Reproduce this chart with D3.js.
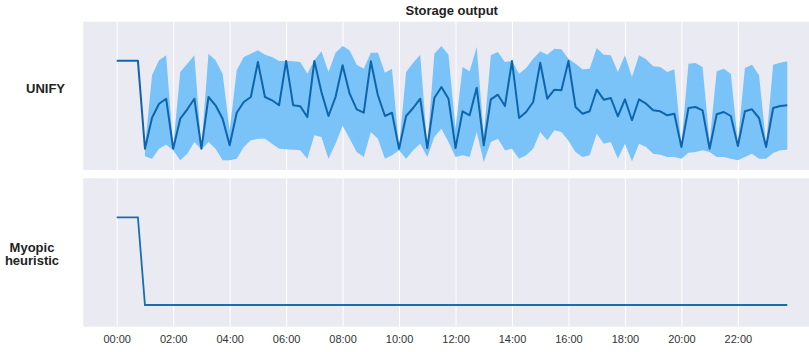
<!DOCTYPE html>
<html>
<head>
<meta charset="utf-8">
<script src="https://cdn.jsdelivr.net/npm/d3@7"></script>
<style>
  body { margin: 0; background: #fff; }
  text { font-family: "Liberation Sans", Arial, sans-serif; }
</style>
</head>
<body>
<div id="chart"></div>
<script>
// x tick labels (every 2 hours), data is every 15 minutes starting at 00:00
var tickLabels = ["00:00", "02:00", "04:00", "06:00", "08:00", "10:00",
  "12:00", "14:00", "16:00", "18:00", "20:00", "22:00"];

var unifyMean = [
  100, 100, 100, 100, 12, 43, 57, 62, 12, 42,
  51.4, 62, 12, 63.7, 55.4, 42, 15.4, 48, 58.7, 63.7,
  98.7, 63.7, 60.4, 55.4, 99.7, 55.4, 54.4, 43.7, 99.7, 68.7,
  44.7, 63.7, 95.4, 67, 51.4, 48, 99.4, 65.4, 44.7, 48,
  12, 44.7, 52.7, 62, 12.7, 62.7, 73.7, 62, 12.7, 49.4,
  45.4, 73, 15.4, 61.4, 66, 54.7, 99.7, 42.7, 48.7, 58.7,
  98, 62, 71, 70.4, 99.7, 53.7, 47, 49.4, 71, 61,
  62.7, 44.4, 61.4, 40.4, 61.4, 57, 50.4, 49.4, 45.4, 47,
  13.7, 52.7, 53.7, 50.4, 12, 46.4, 48.7, 44.7, 14.7, 49.4,
  51.4, 42.7, 13.7, 52.7, 54.7, 55.4];

var unifyUpper = [
  null, null, null, null, 14, 85.4, 100.4, 105.4, 13.7, 88.7,
  97, 105.4, 13, 107, 100.4, 87, 30, 90.4, 103.7, 107,
  110.4, 106, 103.7, 99.7, 99.7, 99.4, 98.7, 87, 100.4, 109.4,
  88.7, 108, 114.7, 110.4, 96, 92, 108, 108, 88, 92,
  13, 88.7, 98, 106, 13.7, 107, 114.7, 106, 32, 93.7,
  89.4, 113.7, 25.4, 105.4, 108.7, 98.7, 99.7, 87, 92.7, 102,
  109.4, 106, 112, 111.4, 102, 97, 91.4, 92, 112.7, 106,
  105.4, 88.7, 105.4, 83.7, 105.4, 101.4, 94.4, 93.7, 88.7, 91.4,
  15.4, 97, 97.7, 93.7, 18.7, 89.4, 92, 87, 18.7, 92.7,
  96, 85.4, 17, 96, 98, 99.4];

var unifyLower = [
  null, null, null, null, 4.4, 2, 12, 16, 10.4, 0.4,
  7, 18.7, 11, 18.7, 12, 0.4, 0.4, 2, 13.7, 20.4,
  22, 22, 17, 12, 11.4, 11, 10.4, 2, 25.4, 23.7,
  2, 17, 35, 22, 8.7, 3.7, 28.7, 22, 2, 5.4,
  10.4, 2, 10.4, 17, 3.7, 23.7, 32, 18.7, 3.7, 5.4,
  3.7, 28.7, -1.3, 18.7, 22, 10.4, 12, 2, 5.4, 12,
  28.7, 20.4, 30.4, 28.7, 20, 8.7, 3.7, 5.4, 27, 17,
  18.7, 2, 17, -0.6, 17, 13.7, 7, 6, 3.7, 3.7,
  2, 8, 8.7, 10.4, 8.7, 3.7, 3.7, 2, 0.4, 3.7,
  7, 2, 2, 7.7, 10.4, 11];

var myopic = [
  100, 100, 100, 100, 12.3, 12.3, 12.3, 12.3, 12.3, 12.3,
  12.3, 12.3, 12.3, 12.3, 12.3, 12.3, 12.3, 12.3, 12.3, 12.3,
  12.3, 12.3, 12.3, 12.3, 12.3, 12.3, 12.3, 12.3, 12.3, 12.3,
  12.3, 12.3, 12.3, 12.3, 12.3, 12.3, 12.3, 12.3, 12.3, 12.3,
  12.3, 12.3, 12.3, 12.3, 12.3, 12.3, 12.3, 12.3, 12.3, 12.3,
  12.3, 12.3, 12.3, 12.3, 12.3, 12.3, 12.3, 12.3, 12.3, 12.3,
  12.3, 12.3, 12.3, 12.3, 12.3, 12.3, 12.3, 12.3, 12.3, 12.3,
  12.3, 12.3, 12.3, 12.3, 12.3, 12.3, 12.3, 12.3, 12.3, 12.3,
  12.3, 12.3, 12.3, 12.3, 12.3, 12.3, 12.3, 12.3, 12.3, 12.3,
  12.3, 12.3, 12.3, 12.3, 12.3, 12.3];

var width = 809;
var height = 352;
var panelH = 148.4;

var parseTime = d3.timeParse("%H:%M");
var start = parseTime(tickLabels[0]);
var times = unifyMean.map(function (d, i) { return d3.timeMinute.offset(start, 15 * i); });
var ticks = tickLabels.map(parseTime);

var rows = times.map(function (t, i) {
  return { t: t, mean: unifyMean[i], upper: unifyUpper[i], lower: unifyLower[i], myopic: myopic[i] };
});

// 5% padding each side like matplotlib
var pad = (times[times.length - 1] - times[0]) * 0.05;
var x = d3.scaleTime()
  .domain([new Date(+times[0] - pad), new Date(+times[times.length - 1] + pad)])
  .range([83.2, 820.8]);

var svg = d3.select("#chart")
  .append("svg")
  .attr("width", width)
  .attr("height", height);

svg.append("text")
  .attr("x", 451.7)
  .attr("y", 15)
  .attr("text-anchor", "middle")
  .attr("font-size", 13)
  .attr("font-weight", "bold")
  .attr("fill", "#222")
  .text("Storage output");

var panels = [
  { top: 21.7, label: ["UNIFY"], lx: 45.5, ly: 93 },
  { top: 178.3, label: ["Myopic", "heuristic"], lx: 32, ly: 251.5 }
];

panels.forEach(function (p, pi) {
  var y = d3.scaleLinear()
    .domain([-9.4, 139])
    .range([p.top + panelH, p.top]);

  var g = svg.append("g");

  g.append("rect")
    .attr("x", x.range()[0])
    .attr("y", p.top)
    .attr("width", x.range()[1] - x.range()[0])
    .attr("height", panelH)
    .attr("fill", "#eaeaf2");

  // vertical grid
  g.append("g")
    .attr("transform", "translate(0," + (p.top + panelH) + ")")
    .call(d3.axisBottom(x).tickValues(ticks).tickSize(-panelH).tickFormat(""))
    .call(function (a) { a.select(".domain").remove(); })
    .selectAll("line")
    .attr("stroke", "#fff")
    .attr("stroke-width", 1);

  if (pi === 0) {
    g.append("path")
      .datum(rows)
      .attr("fill", "#79c3f9")
      .attr("d", d3.area()
        .defined(function (d) { return d.upper != null; })
        .x(function (d) { return x(d.t); })
        .y0(function (d) { return y(d.lower); })
        .y1(function (d) { return y(d.upper); })
      );

    g.append("path")
      .datum(rows)
      .attr("fill", "none")
      .attr("stroke", "#0f65ab")
      .attr("stroke-width", 2)
      .attr("stroke-linejoin", "round")
      .attr("d", d3.line()
        .x(function (d) { return x(d.t); })
        .y(function (d) { return y(d.mean); })
      );
  } else {
    g.append("path")
      .datum(rows)
      .attr("fill", "none")
      .attr("stroke", "#1a6db2")
      .attr("stroke-width", 1.8)
      .attr("d", d3.line()
        .x(function (d) { return x(d.t); })
        .y(function (d) { return y(d.myopic); })
      );

    var ax = g.append("g")
      .attr("transform", "translate(0," + (p.top + panelH) + ")")
      .call(d3.axisBottom(x).tickValues(ticks).tickSize(0).tickPadding(8.8)
        .tickFormat(d3.timeFormat("%H:%M")));
    ax.select(".domain").remove();
    ax.selectAll("text")
      .attr("font-size", 11)
      .attr("font-family", "Liberation Sans, Arial, sans-serif")
      .attr("fill", "#333");
  }

  var lab = svg.append("text")
    .attr("text-anchor", "middle")
    .attr("font-size", 13)
    .attr("font-weight", "bold")
    .attr("fill", "#222");
  p.label.forEach(function (s, i) {
    lab.append("tspan")
      .attr("x", p.lx)
      .attr("y", p.ly + i * 13.5)
      .text(s);
  });
});
</script>
</body>
</html>
